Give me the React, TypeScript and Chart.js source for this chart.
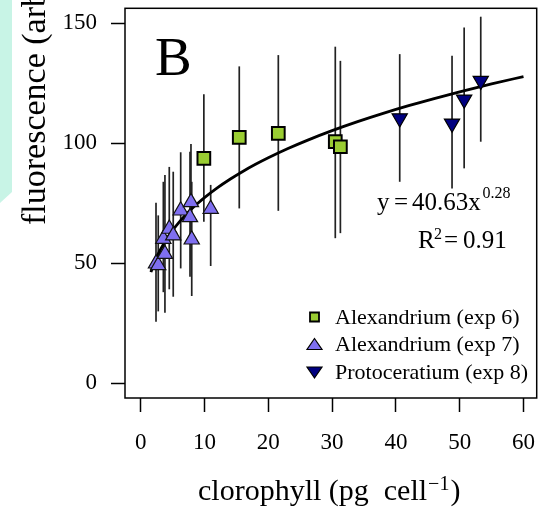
import React, { useEffect, useRef } from 'react';
import { Chart, registerables } from 'chart.js';

Chart.register(...registerables);

// ---------- data ----------
const xTicks = [0, 10, 20, 30, 40, 50, 60];
const yTicks = [0, 50, 100, 150];

// Alexandrium (exp 6) – squares
const sqX = [9.9, 15.45, 21.57, 30.5, 31.3];
const sqY = [93.8, 102.5, 104.2, 100.7, 98.6];
const sqLo = [67.3, 72.9, 71.9, 60.5, 62.6];
const sqHi = [120.5, 132.1, 136.8, 140.3, 134.4];

// Alexandrium (exp 7) – triangles up
const triX = [2.4, 2.75, 3.55, 3.8, 4.48, 5.1, 6.27, 7.73, 7.88, 8.0, 10.97];
const triY = [49.9, 49.2, 60.2, 53.9, 64.4, 61.6, 72.0, 69.2, 75.5, 59.9, 72.7];
const triLo = [25.7, 30, 38, 29.4, 39.2, 36.1, 47.9, 44.4, 51.4, 36.4, 48.9];
const triHi = [75.3, 70, 84, 86.8, 90.2, 88.2, 96.3, 96.5, 99.7, 84, 82.7];

// Protoceratium (exp 8) – triangles down
const dnX = [40.6, 48.8, 50.7, 53.3];
const dnY = [110.5, 108.3, 118.3, 126.1];
const dnLo = [84, 81.2, 89.6, 100.7];
const dnHi = [137.2, 136.5, 148.3, 152.8];

// power fit y = a * x^b (as printed on the chart)
const FIT_A = 40.63;
const FIT_B = 0.28;
const FIT_R2 = 0.91;
const fitX = [1.6, 2, 2.5, 3, 3.5, 4, 5, 6, 7, 8, 9, 10, 12, 14, 16, 18, 20, 23, 26, 30, 34, 38, 42, 46, 50, 55, 60];

const legendLabels = ['Alexandrium (exp 6)', 'Alexandrium (exp 7)', 'Protoceratium (exp 8)'];
const panelLabel = 'B';
const xTitleMain = 'clorophyll (pg  cell';
const xTitleSup = '\u22121';
const yTitle = 'fluorescence (arbitrary units)';

const GREEN = '#9acd32';
const PURPLE = '#7f6ff0';
const NAVY = '#000080';
const SERIF = "'Liberation Serif', 'Times New Roman', serif";

function drawMarker(ctx: CanvasRenderingContext2D, kind: string, x: number, y: number, fill: string) {
  ctx.save();
  ctx.beginPath();
  if (kind === 'rect') {
    ctx.rect(x - 4.5, y - 4.5, 9, 9);
    ctx.lineWidth = 1.8;
  } else if (kind === 'up') {
    ctx.moveTo(x, y - 6);
    ctx.lineTo(x + 7.5, y + 5);
    ctx.lineTo(x - 7.5, y + 5);
    ctx.closePath();
    ctx.lineWidth = 1.2;
  } else {
    ctx.moveTo(x, y + 6);
    ctx.lineTo(x + 7.5, y - 5);
    ctx.lineTo(x - 7.5, y - 5);
    ctx.closePath();
    ctx.lineWidth = 1.2;
  }
  ctx.fillStyle = fill;
  ctx.fill();
  ctx.strokeStyle = '#000';
  ctx.stroke();
  ctx.restore();
}

const decorPlugin = {
  id: 'decor',
  beforeDraw(chart: any) {
    const ctx = chart.ctx;
    ctx.save();
    ctx.fillStyle = '#c8f4e6';
    ctx.beginPath();
    ctx.moveTo(0, 0);
    ctx.lineTo(12, 0);
    ctx.lineTo(12, 192);
    ctx.lineTo(0, 203);
    ctx.closePath();
    ctx.fill();
    ctx.restore();
  },
  beforeDatasetsDraw(chart: any) {
    const ctx = chart.ctx;
    const xs = chart.scales.x;
    const ys = chart.scales.y;
    const groups = [
      [sqX, sqLo, sqHi],
      [triX, triLo, triHi],
      [dnX, dnLo, dnHi],
    ];
    ctx.save();
    ctx.strokeStyle = '#222';
    ctx.lineWidth = 1.7;
    groups.forEach(([gx, lo, hi]) => {
      gx.forEach((v: number, i: number) => {
        const px = xs.getPixelForValue(v);
        ctx.beginPath();
        ctx.moveTo(px, ys.getPixelForValue(lo[i]));
        ctx.lineTo(px, ys.getPixelForValue(hi[i]));
        ctx.stroke();
      });
    });
    ctx.restore();
  },
  afterDraw(chart: any) {
    const ctx = chart.ctx;
    const a = chart.chartArea;
    ctx.save();
    // box
    ctx.strokeStyle = '#000';
    ctx.lineWidth = 1.5;
    ctx.strokeRect(a.left, a.top, a.right - a.left, a.bottom - a.top);

    ctx.fillStyle = '#000';
    ctx.textBaseline = 'alphabetic';
    ctx.textAlign = 'left';

    // panel label
    ctx.font = `55px ${SERIF}`;
    ctx.fillText(panelLabel, 155, 75);

    // equation
    ctx.font = `25px ${SERIF}`;
    ctx.fillText('y', 377, 210);
    ctx.fillText('=', 394, 210);
    ctx.fillText(`${FIT_A}x`, 412, 210);
    ctx.font = `16px ${SERIF}`;
    ctx.fillText(`${FIT_B}`, 482.5, 198);
    ctx.font = `25px ${SERIF}`;
    ctx.fillText('R', 418, 248);
    ctx.fillText('=', 444, 248);
    ctx.fillText(`${FIT_R2}`, 463, 248);
    ctx.font = `16px ${SERIF}`;
    ctx.fillText('2', 434, 239);

    // legend
    const kinds = ['rect', 'up', 'down'];
    const fills = [GREEN, PURPLE, NAVY];
    const rowsY = [317, 344.5, 372];
    ctx.font = `22px ${SERIF}`;
    ctx.textBaseline = 'middle';
    legendLabels.forEach((lab, i) => {
      drawMarker(ctx, kinds[i], 314.5, rowsY[i], fills[i]);
      ctx.fillStyle = '#000';
      ctx.fillText(lab, 335, rowsY[i] + 1);
    });

    // x title
    ctx.textBaseline = 'alphabetic';
    ctx.font = `30px ${SERIF}`;
    let x = 198;
    ctx.fillText(xTitleMain, x, 500);
    x += ctx.measureText(xTitleMain).width + 1;
    ctx.font = `20px ${SERIF}`;
    ctx.fillText(xTitleSup, x, 490);
    x += ctx.measureText(xTitleSup).width + 1;
    ctx.font = `30px ${SERIF}`;
    ctx.fillText(')', x, 500);

    // y title (rotated)
    ctx.translate(45, 225);
    ctx.rotate(-Math.PI / 2);
    ctx.font = `34px ${SERIF}`;
    ctx.fillText(yTitle, 0, 0);
    ctx.restore();
  },
};

function zeroPad(s: any) {
  s.paddingTop = 0;
  s.paddingBottom = 0;
  s.paddingLeft = 0;
  s.paddingRight = 0;
}

export default function App() {
  const ref = useRef<HTMLCanvasElement | null>(null);

  useEffect(() => {
    if (!ref.current) return;
    const tickFont = { family: SERIF, size: 23 };
    const chart = new Chart(ref.current, {
      type: 'scatter',
      data: {
        datasets: [
          {
            label: legendLabels[0],
            data: sqX.map((x, i) => ({ x, y: sqY[i] })),
            pointStyle: 'rect',
            pointRadius: 9,
            pointBackgroundColor: GREEN,
            pointBorderColor: '#000',
            pointBorderWidth: 2,
            showLine: false,
            order: 1,
          },
          {
            label: legendLabels[1],
            data: triX.map((x, i) => ({ x, y: triY[i] })),
            pointStyle: 'triangle',
            pointRadius: 8.8,
            pointBackgroundColor: PURPLE,
            pointBorderColor: '#111',
            pointBorderWidth: 1.2,
            showLine: false,
            order: 2,
          },
          {
            label: legendLabels[2],
            data: dnX.map((x, i) => ({ x, y: dnY[i] })),
            pointStyle: 'triangle',
            rotation: 180,
            pointRotation: 180,
            pointRadius: 8.8,
            pointBackgroundColor: NAVY,
            pointBorderColor: '#000',
            pointBorderWidth: 1.2,
            showLine: false,
            order: 3,
          } as any,
          {
            label: 'fit',
            data: fitX.map((x) => ({ x, y: FIT_A * Math.pow(x, FIT_B) })),
            showLine: true,
            pointRadius: 0,
            borderColor: '#000',
            borderWidth: 2.8,
            cubicInterpolationMode: 'monotone',
            order: 5,
          },
        ],
      },
      options: {
        responsive: false,
        animation: false,
        events: [],
        layout: { padding: { top: 8.3, right: 3.3, left: 0, bottom: 0 }, autoPadding: false },
        plugins: { legend: { display: false }, tooltip: { enabled: false } },
        scales: {
          x: {
            type: 'linear',
            min: -2.46,
            max: 62.07,
            afterBuildTicks: (s: any) => {
              s.ticks = xTicks.map((v) => ({ value: v }));
            },
            afterFit: (s: any) => {
              s.height = 112;
              zeroPad(s);
            },
            ticks: {
              font: tickFont,
              color: '#000',
              padding: 17,
              maxRotation: 0,
              autoSkip: false,
              callback: (v: any) => String(v),
            },
            grid: {
              display: true,
              drawOnChartArea: false,
              drawTicks: true,
              tickLength: 14,
              tickWidth: 1.5,
              tickColor: '#000',
              color: '#000',
            },
            border: { display: false },
            title: { display: false },
          },
          y: {
            type: 'linear',
            min: -6.1,
            max: 156.3,
            afterBuildTicks: (s: any) => {
              s.ticks = yTicks.map((v) => ({ value: v }));
            },
            afterFit: (s: any) => {
              s.width = 125;
              zeroPad(s);
            },
            ticks: {
              font: tickFont,
              color: '#000',
              padding: 14,
              autoSkip: false,
              callback: (v: any) => String(v),
            },
            grid: {
              display: true,
              drawOnChartArea: false,
              drawTicks: true,
              tickLength: 14,
              tickWidth: 1.5,
              tickColor: '#000',
              color: '#000',
            },
            border: { display: false },
            title: { display: false },
          },
        },
      },
      plugins: [decorPlugin],
    } as any);
    return () => chart.destroy();
  }, []);

  return (
    <div style={{ position: 'fixed', left: 0, top: 0, width: 540, height: 510, background: '#fff' }}>
      <canvas ref={ref} width={540} height={510} style={{ display: 'block', width: 540, height: 510 }} />
    </div>
  );
}
